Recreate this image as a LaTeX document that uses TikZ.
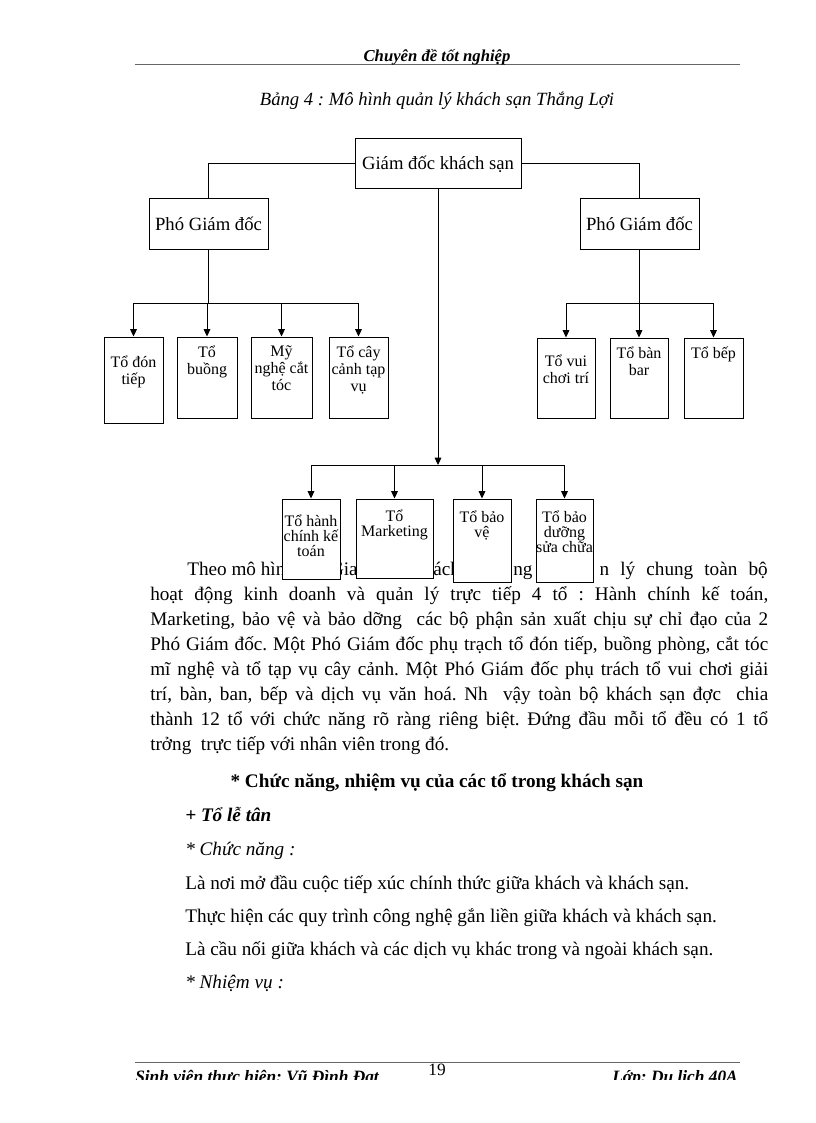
\documentclass[tikz,border=0pt]{standalone}
\usepackage{fontspec}
\setmainfont{Liberation Serif}
\usetikzlibrary{arrows.meta,positioning,calc}
\frenchspacing
\tikzset{
  chief/.style   = {draw, fill=white, line width=0.75pt, minimum width=124.5pt,
                    minimum height=37.5pt, inner sep=0pt, font=\fontsize{14}{16}\selectfont},
  deputy/.style  = {chief, minimum width=89.25pt},
  unit/.style    = {draw, fill=white, line width=0.75pt, minimum width=44.25pt,
                    minimum height=60.75pt, inner sep=0pt},
  unitlbl/.style = {anchor=north, inner sep=0pt, align=center, font=\fontsize{12}{12.75}\selectfont},
  botlbl/.style  = {unitlbl, font=\fontsize{12}{11.25}\selectfont},
  sig/.style     = {-{Triangle[length=5.5pt,width=5pt]}, line width=0.75pt},
  wire/.style    = {line width=0.75pt},
  body/.style    = {inner sep=0pt, anchor=base west, font=\fontsize{14.4}{18}\selectfont},
  rule/.style    = {line width=0.75pt, black!60},
  banner/.style  = {inner sep=0pt, anchor=base, font=\fontsize{12.5}{14}\selectfont\bfseries\itshape},
}
\newcommand{\jline}[3]{\node[body] (#1) at (150,#2) {\makebox[463.5pt][s]{#3}};}

\begin{document}
\begin{tikzpicture}[x=0.75pt,y=-0.75pt]
\fill[white] (0,0) rectangle (816,1123);
\useasboundingbox (0,0) rectangle (816,1123);
% ---- page header ----
\coordinate (hl) at (135,65);
\coordinate (hr) at (740,65);
\draw[rule] (hl) -- (hr);
\node[banner] (head) at (437,62) {Chuyên đề tốt nghiệp};
\node[body, anchor=base, font=\fontsize{14}{18}\selectfont\itshape] (cap) at (437,106)
  {Bảng 4 : Mô hình quản lý khách sạn Thắng Lợi};
% ---- paragraph (partly hidden by the lower boxes) ----
\node[body] (l1a) at (187,575) {Theo mô hìn};
\node[body, anchor=base east] (l1b) at (358,575) {Gia};
\node[body] (l1c) at (433,575) {ách};
\node[body] (l1d) at (513,575) {ng};
\node[body, anchor=base east] (l1e) at (768,575) {\makebox[126pt][s]{n lý chung toàn bộ}};
\jline{l2}{600}{hoạt động kinh doanh và quản lý trực tiếp 4 tổ : Hành chính kế toán,}
\jline{l3}{625}{Marketing, bảo vệ và bảo dỡng\ \ các bộ phận sản xuất chịu sự chỉ đạo của 2}
\jline{l4}{650}{Phó Giám đốc. Một Phó Giám đốc phụ trạch tổ đón tiếp, buồng phòng, cắt tóc}
\jline{l5}{675}{mĩ nghệ và tổ tạp vụ cây cảnh. Một Phó Giám đốc phụ trách tổ vui chơi giải}
\jline{l6}{700}{trí, bàn, ban, bếp và dịch vụ văn hoá. Nh\ \ vậy toàn bộ khách sạn đợc\ \ chia}
\jline{l7}{725}{thành 12 tổ với chức năng rõ ràng riêng biệt. Đứng đầu mỗi tổ đều có 1 tổ}
\node[body] (l8) at (150,750) {trởng\ \ trực tiếp với nhân viên trong đó.};
\node[body, anchor=base, font=\fontsize{14.4}{18}\selectfont\bfseries] (sect) at (437,787)
  {* Chức năng, nhiệm vụ của các tổ trong khách sạn};
\node[body, font=\fontsize{14.4}{18}\selectfont\bfseries\itshape] (sub) at (185,821) {+ Tổ lễ tân};
\node[body, font=\fontsize{14.4}{18}\selectfont\itshape] (fn) at (185,855) {* Chức năng :};
\node[body] (fn1) at (185,889) {Là nơi mở đầu cuộc tiếp xúc chính thức giữa khách và khách sạn.};
\node[body] (fn2) at (185,922) {Thực hiện các quy trình công nghệ gắn liền giữa khách và khách sạn.};
\node[body] (fn3) at (185,955) {Là cầu nối giữa khách và các dịch vụ khác trong và ngoài khách sạn.};
\node[body, font=\fontsize{14.4}{18}\selectfont\itshape] (task) at (185,988) {* Nhiệm vụ :};
% ---- top of the chart ----
\node[chief] (GD) at (438,164) {Giám đốc khách sạn};
\node[deputy] (PG1) at (208.5,224) {Phó Giám đốc};
\node[deputy] (PG2) at (639.5,224) {Phó Giám đốc};
\draw[wire] (GD.west) -| (PG1.north);
\draw[wire] (GD.east) -| (PG2.north);
% ---- units under the first deputy ----
\node[unit, minimum height=64.5pt, label={[unitlbl,yshift=-14pt]north:{Tổ đón\\tiếp}}] (u1) at (133.5,380) {};
\node[unit, minimum width=45pt, label={[unitlbl,yshift=-6.75pt]north:{Tổ\\buồng}}] (u2) at (207,377.5) {};
\node[unit, minimum width=45.75pt, label={[unitlbl,yshift=-6.75pt]north:{Mỹ\\nghệ cắt\\tóc}}] (u3) at (281.5,377.5) {};
\node[unit, label={[unitlbl,yshift=-6.75pt]north:{Tổ cây\\cảnh tạp\\vụ}}] (u4) at (358.5,377.5) {};
\coordinate (busL) at (208,303);
\draw[wire] (PG1.south) -- (PG1.south |- busL);
\draw[wire] (u1.north |- busL) -- (u4.north |- busL);
\foreach \u in {u1,u2,u3,u4} \draw[sig] (\u.north |- busL) -- (\u.north);
% ---- units under the second deputy ----
\node[unit, minimum width=43.5pt, minimum height=60pt, label={[unitlbl,yshift=-12.75pt]north:{Tổ vui\\chơi trí}}] (r1) at (566,378) {};
\node[unit, minimum width=43.5pt, minimum height=60pt, label={[unitlbl,yshift=-6.75pt]north:{Tổ bàn\\bar}}] (r2) at (639,378) {};
\node[unit, minimum height=60pt, label={[unitlbl,yshift=-6.75pt]north:{Tổ bếp}}] (r3) at (713.5,378) {};
\coordinate (busR) at (641,303);
\draw[wire] (PG2.south) -- (PG2.south |- busR);
\draw[wire] (r1.north |- busR) -- (r3.north |- busR);
\foreach \u in {r1,r2,r3} \draw[sig] (\u.north |- busR) -- (\u.north);
% ---- units led by the director ----
\node[unit, minimum width=43.5pt, minimum height=60pt, label={[botlbl,yshift=-12pt]north:{Tổ hành\\chính kế\\toán}}] (b1) at (311,539) {};
\node[unit, minimum width=57.75pt, minimum height=59.25pt, label={[botlbl,yshift=-8.25pt]north:{Tổ\\Marketing}}] (b2) at (394.5,538.5) {};
\node[unit, minimum width=43.5pt, minimum height=62.25pt, label={[botlbl,yshift=-9pt]north:{Tổ bảo\\vệ}}] (b3) at (482,540.5) {};
\node[unit, minimum width=42.75pt, minimum height=62.25pt, label={[botlbl,yshift=-9pt]north:{Tổ bảo\\dưỡng\\sửa chữa}}] (b4) at (564.5,540.5) {};
\coordinate (busB) at (438,465);
\draw[sig] (GD.south) -- (busB);
\draw[wire] (b1.north |- busB) -- (b4.north |- busB);
\foreach \u in {b1,b2,b3,b4} \draw[sig] (\u.north |- busB) -- (\u.north);
% ---- page footer ----
\coordinate (fl) at (135,1062);
\coordinate (fr) at (740,1062);
\draw[rule] (fl) -- (fr);
\node[body, anchor=base, font=\fontsize{13}{15}\selectfont] (pageno) at (437,1075) {19};
\begin{scope}
\clip (0,0) rectangle (816,1079);
\node[banner, anchor=base west, font=\fontsize{13}{15}\selectfont\bfseries\itshape] (author) at (135,1082) {Sinh viên thực hiện: Vũ Đình Đạt};
\node[banner, anchor=base east, font=\fontsize{13}{15}\selectfont\bfseries\itshape] (klass) at (738,1082) {Lớp: Du lịch 40A};
\end{scope}
\end{tikzpicture}
\end{document}
